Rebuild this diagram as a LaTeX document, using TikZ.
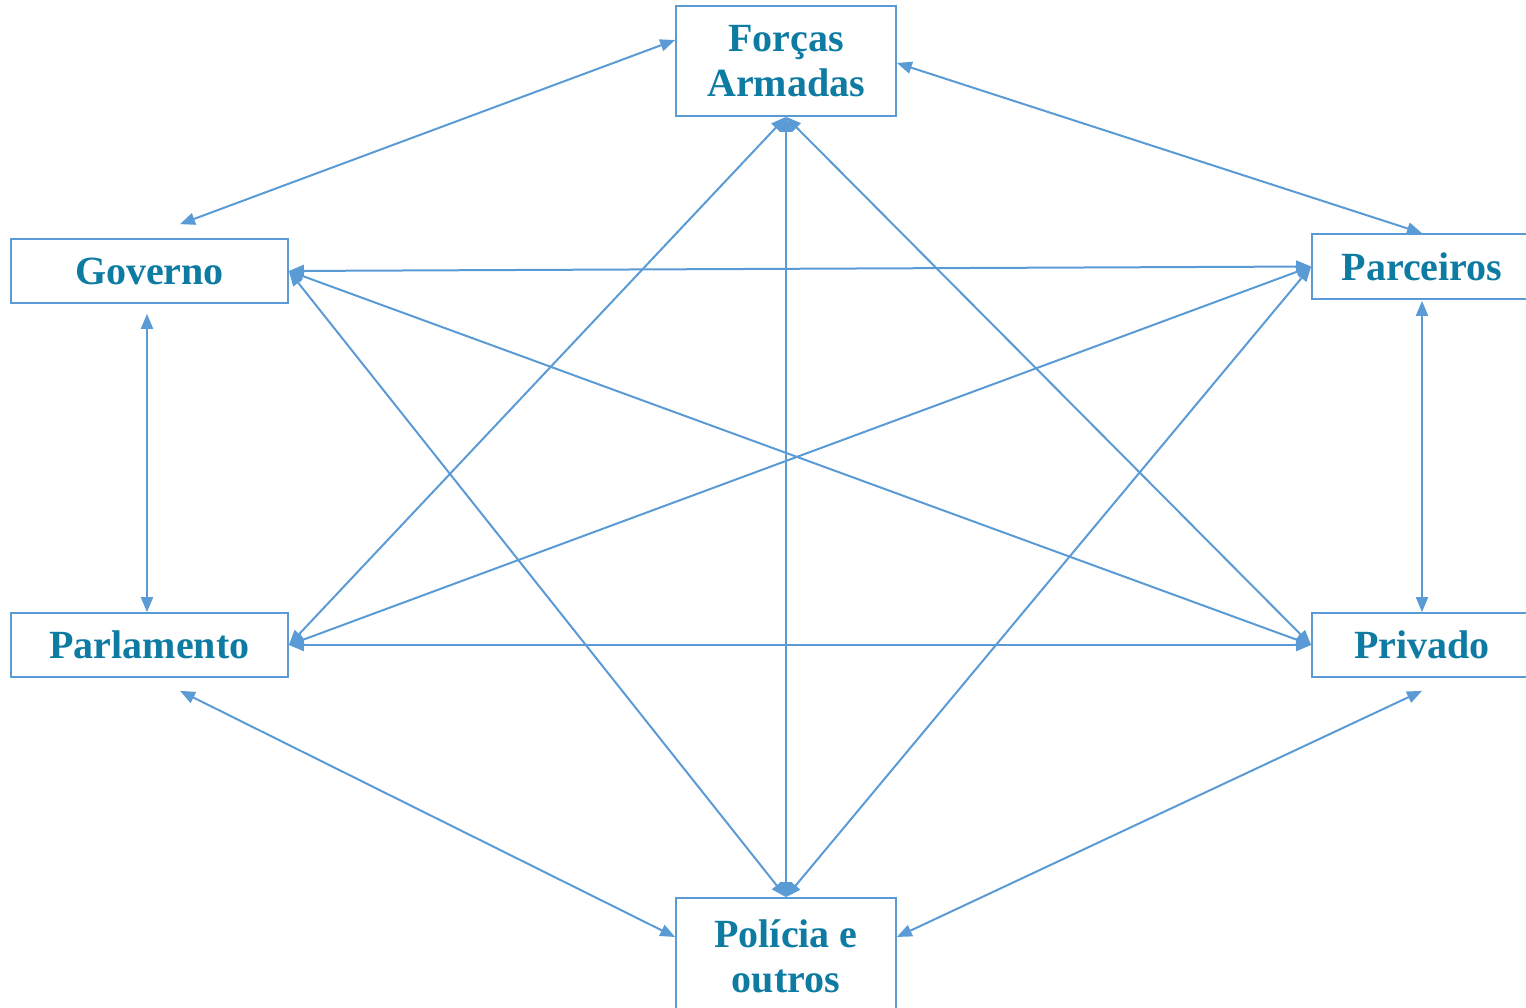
\documentclass[tikz,border=0pt]{standalone}
\usepackage{fontspec}
\setmainfont{Liberation Serif}
\usetikzlibrary{arrows.meta}
\definecolor{lineblue}{HTML}{5B9BD5}
\definecolor{textteal}{HTML}{0E7BA3}
\tikzset{
  box/.style={draw=lineblue, line width=1.7pt, fill=white, inner sep=0pt,
    align=center, text=textteal, font=\fontsize{40}{45}\selectfont\bfseries},
  arr/.style={draw=lineblue, line width=2pt,
    {Triangle[length=15pt,width=12pt]}-{Triangle[length=15pt,width=12pt]}}
}
\begin{document}
\begin{tikzpicture}[x=1pt,y=-1pt]
\useasboundingbox (0,0) rectangle (1526,1008);
\node[box, minimum width=220pt, minimum height=110pt] (fa) at (786,61) {Forças\\Armadas};
\node[box, minimum width=277pt, minimum height=64pt] (gov) at (149.5,271) {Governo};
\node[box, minimum width=220pt, minimum height=65pt] (par) at (1422,266.5) {Parceiros};
\node[box, minimum width=220pt, minimum height=64pt] (priv) at (1422,645) {Privado};
\node[box, minimum width=277pt, minimum height=64pt] (parl) at (149.5,645) {Parlamento};
\node[box, minimum width=220pt, minimum height=116pt] (pol) at (786,956) {Polícia e\\outros};

\draw[arr] ([xshift=30.5pt,yshift=14pt]gov.north) -- ([yshift=21pt]fa.west);
\draw[arr] ([yshift=-2pt]fa.east) -- (par.north);
\draw[arr] (gov.east) -- (par.west);
\draw[arr] ([xshift=-2.5pt,yshift=-10pt]gov.south) -- ([xshift=-2.5pt]parl.north);
\draw[arr] ([yshift=-1pt]par.south) -- (priv.north);
\draw[arr] (parl.east) -- (priv.west);
\draw[arr] ([xshift=30.5pt,yshift=-13pt]parl.south) -- ([yshift=19pt]pol.west);
\draw[arr] ([yshift=-13pt]priv.south) -- ([yshift=19pt]pol.east);
\draw[arr] (fa.south) -- (pol.north);
\draw[arr] (fa.south) -- (parl.east);
\draw[arr] (fa.south) -- (priv.west);
\draw[arr] (gov.east) -- (pol.north);
\draw[arr] (gov.east) -- (priv.west);
\draw[arr] (par.west) -- (parl.east);
\draw[arr] (par.west) -- (pol.north);
\end{tikzpicture}
\end{document}
